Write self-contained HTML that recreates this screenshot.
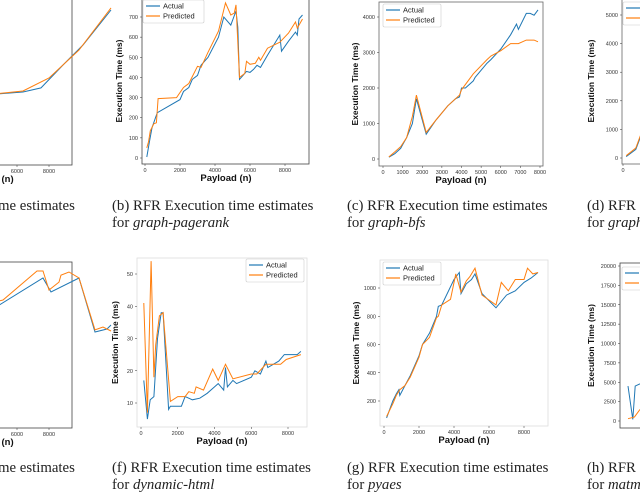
<!DOCTYPE html>
<html><head><meta charset="utf-8"><style>
body{margin:0;background:#fff;width:640px;height:492px;overflow:hidden}
svg{display:block}
.cap{font-family:"Liberation Serif",serif;font-size:14.8px;fill:#222}
.tk{font-family:"Liberation Sans",sans-serif;font-size:5.5px;fill:#333}
.lab{font-family:"Liberation Sans",sans-serif;font-size:9.5px;font-weight:bold;fill:#111}
.ylab{font-family:"Liberation Sans",sans-serif;font-size:8.5px;font-weight:bold;fill:#111}
.lg{font-family:"Liberation Sans",sans-serif;font-size:7.5px;fill:#222}
</style></head><body>
<svg id="fig" width="640" height="492" viewBox="0 0 640 492" xmlns="http://www.w3.org/2000/svg"></svg>
<script>
// Panel a (cropped)
const aX=[3875,6375,7500,8875,10125,11875], aAct=[419,439,465,613,742,968];
const aPX=[3875,6375,8000,9875,11875], aPred=[419,445,529,710,981];
// Panel b graph-pagerank
const bX=[100,250,400,600,700,2000,2200,2500,2700,3000,3200,3600,4200,4500,4900,5200,5300,5400,5600,5800,6000,6200,6400,6600,7000,7700,7800,8200,8600,8700,8800,9000];
const bAct=[5,80,150,200,225,290,330,350,390,410,460,500,600,700,660,730,650,390,410,430,425,440,460,450,510,610,530,580,625,610,690,710];
const bPX=[100,200,300,500,650,750,1800,2200,2500,3000,3200,3600,4200,4600,4900,5100,5200,5400,5700,5800,6000,6300,6500,6600,7000,7700,8200,8600,8700,9000];
const bPred=[50,80,135,170,175,295,300,350,370,455,450,525,630,770,710,720,760,400,420,480,465,470,500,485,545,575,620,675,645,690];
const bYTicks=[0,100,200,300,400,500,600,700], bXTicks=[0,2000,4000,6000,8000];
// Panel c graph-bfs
const cX=[300,600,900,1000,1200,1500,1700,2200,2700,3300,3700,3900,4000,4200,4600,4700,5300,5500,6000,6500,6800,6900,7300,7500,7700,7900];
const cAct=[50,150,300,400,600,1000,1700,700,1100,1500,1700,1750,2000,2000,2200,2300,2700,2800,3100,3500,3800,3650,4100,4100,4050,4200];
const cPX=[300,600,900,1200,1500,1700,2200,2700,3300,3900,4000,4600,5300,5500,6000,6500,6900,7300,7700,7900];
const cPred=[60,200,350,600,1200,1800,750,1100,1500,1800,1950,2400,2800,2900,3050,3250,3250,3350,3350,3300];
const cYTicks=[0,1000,2000,3000,4000], cXTicks=[0,1000,2000,3000,4000,5000,6000,7000,8000];
// Panel d (cropped)
const dX=[200,800,1200,1500], dAct=[50,300,900,1300], dPred=[80,350,950,1350];
const dYTicks=[0,1000,2000,3000,4000,5000];
// Panel e (cropped)
const eX=[3875,7625,8125,9875,10875,11625,11875], eAct=[677,916,826,916,568,587,613];
const ePX=[3875,5125,7250,7625,8000,8625,8750,9250,9875,10875,11375,11875], ePred=[742,774,961,961,839,890,935,955,916,581,600,574];
// Panel f dynamic-html
const fX=[150,350,500,700,900,1100,1200,1500,1600,2200,2400,2800,3200,3600,4000,4200,4500,4600,4700,5000,5200,6000,6200,6500,6800,6900,7500,7800,8500,8700];
const fAct=[17,5,11,12,30,38,38,8,9,9,12,11,11.5,13,15,16,14,21,15,17,16,18,20,19,23,21,23,25,25,26];
const fPX=[150,350,550,700,800,1000,1200,1600,2000,2400,2600,2900,3000,3400,3900,4200,4600,5000,6000,6300,6800,7200,7600,7900,8700];
const fPred=[41,7,54,18,28,37,38,10.5,12,12,13.5,13,15,14,20.5,17,22,17.5,19,19,22,22,22,23.5,25];
const fYTicks=[10,20,30,40,50], fXTicks=[0,2000,4000,6000,8000];
// Panel g pyaes
const gX=[150,500,700,850,900,1200,1500,2000,2200,2600,3000,3100,3300,4000,4300,4400,4700,5000,5200,5600,6400,7000,7500,8000,8400,8800];
const gAct=[80,200,250,280,240,310,380,520,600,680,800,870,880,1060,1110,960,1030,1060,1100,960,860,950,980,1040,1070,1110];
const gPX=[150,500,700,900,1200,1500,2000,2200,2600,3000,3100,3300,3800,4100,4400,4700,4900,5200,5600,6400,6700,7100,7500,8000,8200,8500,8800];
const gPred=[90,180,240,280,310,370,510,600,650,790,800,880,920,1100,970,1050,1080,1140,950,880,1040,980,1060,1060,1140,1100,1110];
const gYTicks=[200,400,600,800,1000], gXTicks=[0,2000,4000,6000,8000];
// Panel h (cropped)
const hX=[250,550,700,1000], hAct=[4500,200,4500,4800];
const hPX=[250,650,1000], hPred=[300,500,1500];
const hYTicks=[0,2500,5000,7500,10000,12500,15000,17500,20000];

const S=document.getElementById('fig'), NS='http://www.w3.org/2000/svg';
function mk(tag,attrs,parent){const e=document.createElementNS(NS,tag);for(const k in attrs)e.setAttribute(k,attrs[k]);(parent||S).appendChild(e);return e;}
function txt(x,y,s,cls,parent,extra){const t=mk('text',Object.assign({x:x,y:y,class:cls},extra||{}),parent);t.textContent=s;return t;}

function panel(id,p){
  const g=mk('g',{});
  
  
  const sx=v=>p.x0+(v-p.xv0)*(p.x1-p.x0)/(p.xv1-p.xv0);
  const sy=v=>p.y0+(v-p.yv0)*(p.y1-p.y0)/(p.yv1-p.yv0);
  const fr=mk('rect',{x:p.L,y:p.T,width:p.R-p.L,height:p.B-p.T,fill:'none',stroke:p.fc||'#aaa','stroke-width':0.8},g);
  
  
  (p.yt||[]).forEach(v=>{const y=sy(v);mk('line',{x1:p.L-2,x2:p.L,y1:y,y2:y,stroke:'#333','stroke-width':0.5},g);
    const t=txt(p.L-4,y+2,String(v),'tk',g,{'text-anchor':'end'});
    
    });
  (p.xt||[]).forEach(v=>{const x=sx(v);mk('line',{x1:x,x2:x,y1:p.B,y2:p.B+2,stroke:'#333','stroke-width':0.5},g);
    const t=txt(x,p.B+8,String(v),'tk',g,{'text-anchor':'middle'});
    
    });
  const line=(xs,ys,c,nm)=>{const l=mk('polyline',{points:xs.map((x,i)=>sx(x).toFixed(1)+','+sy(ys[i]).toFixed(1)).join(' '),fill:'none',stroke:c,'stroke-width':1},g);
    
    };
  line(p.ax,p.ay,'#1f77b4',id+'-actual-line');
  line(p.px,p.py,'#ff7f0e',id+'-predicted-line');
  if(p.ylabX){const t=txt(p.ylabX,(p.T+p.B)/2,'Execution Time (ms)','ylab',g,{'text-anchor':'middle',transform:'rotate(-90 '+p.ylabX+' '+((p.T+p.B)/2)+')'});
    
    }
  const xl=txt(p.xlabX,p.B+17,'Payload (n)','lab',g,{'text-anchor':'middle'});
  
  
  if(p.lg){const [lx,ly,lw]=p.lg;
    const lgG=mk('g',{},g);
    
    
    mk('rect',{x:lx,y:ly,width:lw,height:23,fill:'#fff',stroke:'#ccc','stroke-width':0.6,rx:1.5},lgG);
    mk('line',{x1:lx+3,x2:lx+17,y1:ly+6,y2:ly+6,stroke:'#1f77b4','stroke-width':1.2},lgG);
    mk('line',{x1:lx+3,x2:lx+17,y1:ly+16,y2:ly+16,stroke:'#ff7f0e','stroke-width':1.2},lgG);
    txt(lx+20,ly+8.5,'Actual','lg',lgG);txt(lx+20,ly+18.5,'Predicted','lg',lgG);}
  if(p.cap){p.cap.forEach((c,i)=>{const t=mk('text',{x:p.capX,y:p.capY+i*17,class:'cap'},g);
    
    
    t.innerHTML=c;});}
}
panel('panel-a',{L:-40,R:72,T:-2,B:165,fc:'#444',x0:17,x1:49,xv0:6000,xv1:8000,y0:160,y1:5,yv0:0,yv1:1000,xt:[6000,8000],ax:aX,ay:aAct,px:aPX,py:aPred,xlabX:-12,cap:['me estimates'],capX:-2,capY:210});
panel('panel-b',{L:142,R:309,T:-2,B:164,fc:'#444',x0:145,x1:285,xv0:0,xv1:8000,y0:158,y1:17,yv0:0,yv1:700,yt:bYTicks,xt:bXTicks,ax:bX,ay:bAct,px:bPX,py:bPred,ylabX:122,xlabX:226,lg:[143,0,61],cap:['(b) RFR Execution time estimates','for <tspan font-style="italic">graph-pagerank</tspan>'],capX:112,capY:210});
panel('panel-c',{L:379,R:543,T:2,B:166,fc:'#666',x0:383,x1:540,xv0:0,xv1:8000,y0:159,y1:17,yv0:0,yv1:4000,yt:cYTicks,xt:cXTicks,ax:cX,ay:cAct,px:cPX,py:cPred,ylabX:358,xlabX:461,lg:[383,4,58],cap:['(c) RFR Execution time estimates','for <tspan font-style="italic">graph-bfs</tspan>'],capX:347,capY:210});
panel('panel-d',{L:622,R:800,T:-2,B:164,fc:'#666',x0:623,x1:639,xv0:0,xv1:1000,y0:158,y1:15,yv0:0,yv1:5000,yt:dYTicks,xt:[0],ax:dX,ay:dAct,px:dX,py:dPred,ylabX:594,xlabX:720,lg:[623,2,60],cap:['(d) RFR','for <tspan font-style="italic">graph</tspan>'],capX:587,capY:210});
panel('panel-e',{L:-40,R:72,T:262,B:428,fc:'#444',x0:17,x1:49,xv0:6000,xv1:8000,y0:420,y1:265,yv0:0,yv1:1000,xt:[6000,8000],ax:eX,ay:eAct,px:ePX,py:ePred,xlabX:-12,cap:['me estimates'],capX:-2,capY:472});
panel('panel-f',{L:137,R:307,T:258,B:427,fc:'#ddd',x0:141,x1:288,xv0:0,xv1:8000,y0:403,y1:274,yv0:10,yv1:50,yt:fYTicks,xt:fXTicks,ax:fX,ay:fAct,px:fPX,py:fPred,ylabX:118,xlabX:222,lg:[246,259,58],cap:['(f) RFR Execution time estimates','for <tspan font-style="italic">dynamic-html</tspan>'],capX:112,capY:472});
panel('panel-g',{L:380,R:548,T:260,B:426,fc:'#ddd',x0:384,x1:524,xv0:0,xv1:8000,y0:401,y1:288,yv0:200,yv1:1000,yt:gYTicks,xt:gXTicks,ax:gX,ay:gAct,px:gPX,py:gPred,ylabX:359,xlabX:464,lg:[383,262,58],cap:['(g) RFR Execution time estimates','for <tspan font-style="italic">pyaes</tspan>'],capX:347,capY:472});
panel('panel-h',{L:620,R:800,T:263,B:428,fc:'#444',x0:624,x1:640,xv0:0,xv1:1000,y0:421,y1:266,yv0:0,yv1:20000,yt:hYTicks,xt:[],ax:hX,ay:hAct,px:hPX,py:hPred,ylabX:594,xlabX:720,lg:[622,267,60],cap:['(h) RFR','for <tspan font-style="italic">matm</tspan>'],capX:587,capY:472});
</script>
</body></html>
